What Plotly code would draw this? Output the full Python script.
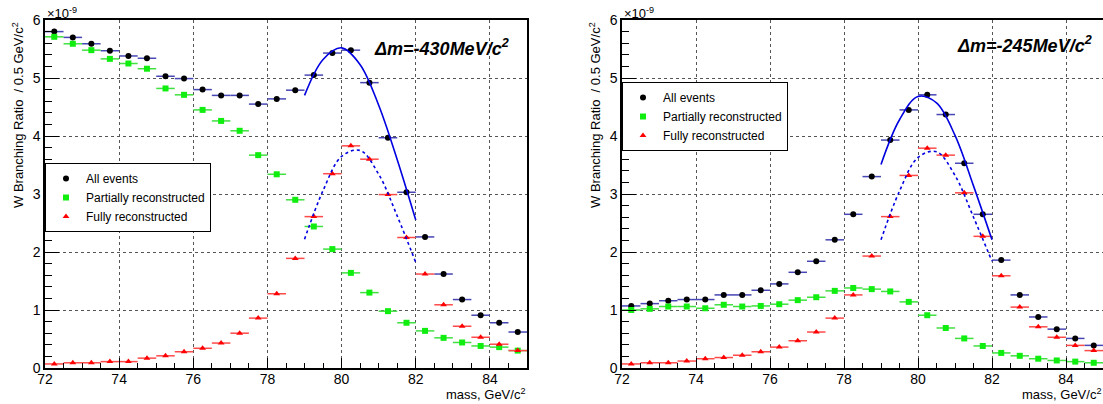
import plotly.graph_objects as go

# ---------------- data (values in units of 1e-9) ----------------
mass = [72.25, 72.75, 73.25, 73.75, 74.25, 74.75, 75.25, 75.75, 76.25, 76.75,
        77.25, 77.75, 78.25, 78.75, 79.25, 79.75, 80.25, 80.75, 81.25, 81.75,
        82.25, 82.75, 83.25, 83.75, 84.25, 84.75]
half_bin = [0.25] * len(mass)

all_430 = [5.80, 5.70, 5.59, 5.47, 5.38, 5.34, 5.03, 4.99, 4.80, 4.70,
           4.70, 4.55, 4.64, 4.79, 5.05, 5.43, 5.48, 4.92, 3.97, 3.03,
           2.26, 1.62, 1.18, 0.91, 0.78, 0.62]
part_430 = [5.71, 5.59, 5.48, 5.33, 5.25, 5.16, 4.82, 4.71, 4.45, 4.26,
            4.09, 3.67, 3.34, 2.90, 2.44, 2.05, 1.64, 1.30, 0.98, 0.78,
            0.64, 0.52, 0.44, 0.38, 0.36, 0.30]
full_430 = [0.07, 0.09, 0.09, 0.11, 0.11, 0.17, 0.21, 0.28, 0.34, 0.43,
            0.60, 0.86, 1.28, 1.89, 2.61, 3.35, 3.83, 3.60, 2.99, 2.25,
            1.62, 1.09, 0.72, 0.53, 0.41, 0.30]

all_245 = [1.07, 1.11, 1.16, 1.18, 1.18, 1.26, 1.26, 1.34, 1.45, 1.65,
           1.84, 2.21, 2.65, 3.30, 3.93, 4.45, 4.71, 4.37, 3.53, 2.65,
           1.86, 1.26, 0.88, 0.67, 0.51, 0.39]
part_245 = [1.00, 1.02, 1.06, 1.06, 1.03, 1.09, 1.06, 1.07, 1.10, 1.17,
            1.22, 1.33, 1.38, 1.36, 1.32, 1.14, 0.91, 0.69, 0.51, 0.38,
            0.26, 0.21, 0.16, 0.13, 0.11, 0.09]
full_245 = [0.07, 0.09, 0.09, 0.12, 0.16, 0.18, 0.22, 0.28, 0.36, 0.47,
            0.62, 0.86, 1.26, 1.93, 2.61, 3.32, 3.79, 3.67, 3.02, 2.27,
            1.59, 1.05, 0.71, 0.53, 0.39, 0.30]

# fit curves
fit_x = [79.0, 79.5, 80.0, 80.5, 81.0, 81.5, 82.0]
fit_all_430 = [4.70, 5.32, 5.52, 5.23, 4.53, 3.59, 2.55]
fit_full_430 = [2.22, 3.06, 3.65, 3.75, 3.34, 2.62, 1.82]
fit_all_245 = [3.51, 4.28, 4.68, 4.57, 4.01, 3.14, 2.21]
fit_full_245 = [2.21, 3.05, 3.63, 3.73, 3.32, 2.60, 1.84]

series_names = ["All events", "Partially reconstructed", "Fully reconstructed"]
panel_labels = ["Δm=-430MeV/c<sup>2</sup>", "Δm=-245MeV/c<sup>2</sup>"]

FONT = "Liberation Sans, Arial, sans-serif"
W, H = 1103, 404

fig = go.Figure()

styles = [
    dict(color="black", symbol="circle", size=6, err="#4646b4"),
    dict(color="#10ee10", symbol="square", size=6, err="#40e040"),
    dict(color="#ff0000", symbol="triangle-up", size=6, err="#ff4a4a"),
]

panels = [
    ("x", "y", "legend", [all_430, part_430, full_430], fit_all_430, fit_full_430),
    ("x2", "y2", "legend2", [all_245, part_245, full_245], fit_all_245, fit_full_245),
]

for xa, ya, lg, vals, fa, ff in panels:
    for name, v, st in zip(series_names, vals, styles):
        fig.add_trace(go.Scatter(
            x=mass, y=v, mode="markers", name=name, xaxis=xa, yaxis=ya, legend=lg,
            marker=dict(color=st["color"], symbol=st["symbol"], size=st["size"]),
            error_x=dict(type="data", array=half_bin, visible=True, color=st["err"],
                         thickness=1.5, width=0),
        ))
    fig.add_trace(go.Scatter(x=fit_x, y=fa, mode="lines", line=dict(color="#0000e0", width=1.6, shape="spline"),
                             xaxis=xa, yaxis=ya, showlegend=False))
    fig.add_trace(go.Scatter(x=fit_x, y=ff, mode="lines",
                             line=dict(color="#0000e0", width=1.6, dash="3px,3px", shape="spline"),
                             xaxis=xa, yaxis=ya, showlegend=False))

# geometry (pixels)
left_axes = [45, 622]
right_axes = [527, 1103]
top_px, bot_px = 20, 368
ydom = [(H - bot_px) / H, (H - top_px) / H]

common_x = dict(range=[72, 85], tick0=72, dtick=2, ticks="inside", ticklen=10, tickwidth=1,
                tickcolor="black", showline=True, linecolor="black", linewidth=1.5, mirror=True,
                showgrid=True, gridcolor="#555555", griddash="dot", gridwidth=1, zeroline=False,
                automargin=False, ticklabelstandoff=-3,
                tickfont=dict(size=14, family=FONT, color="black"),
                minor=dict(dtick=0.5, ticks="inside", ticklen=5, tickcolor="black", showgrid=False))
common_y = dict(range=[0, 6], tick0=0, dtick=1, ticks="inside", ticklen=14, tickwidth=1,
                tickcolor="black", showline=True, linecolor="black", linewidth=1.5, mirror=True,
                showgrid=True, gridcolor="#555555", griddash="dot", gridwidth=1, zeroline=False,
                automargin=False,
                tickfont=dict(size=14, family=FONT, color="black"),
                minor=dict(dtick=0.2, ticks="inside", ticklen=7, tickcolor="black", showgrid=False))

fig.update_layout(
    xaxis=dict(domain=[left_axes[0] / W, right_axes[0] / W], anchor="y", **common_x),
    yaxis=dict(domain=ydom, anchor="x", **common_y),
    xaxis2=dict(domain=[left_axes[1] / W, right_axes[1] / W], anchor="y2", **common_x),
    yaxis2=dict(domain=ydom, anchor="x2", **common_y),
)

leg_common = dict(xanchor="left", yanchor="top", bordercolor="black", borderwidth=1,
                  bgcolor="white", font=dict(size=12, family=FONT, color="black"),
                  tracegroupgap=0, itemwidth=30)
fig.update_layout(
    legend=dict(x=45 / W, y=(H - 163) / H, **leg_common),
    legend2=dict(x=622 / W, y=(H - 82) / H, **leg_common),
)

ann = []
for i, ax in enumerate(left_axes):
    ann.append(dict(x=ax / W, y=(H - 13) / H, xref="paper", yref="paper", xanchor="left", yanchor="middle",
                    text="×10<sup>-9</sup>", showarrow=False, font=dict(size=13, family=FONT, color="black")))
    ann.append(dict(x=(ax - 27) / W, y=(H - 20) / H, xref="paper", yref="paper", xanchor="center", yanchor="top",
                    text="W Branching Ratio  / 0.5 GeV/c<sup>2</sup>", textangle=-90, showarrow=False,
                    font=dict(size=13, family=FONT, color="black")))
    ann.append(dict(x=right_axes[i] / W, y=(H - 394) / H, xref="paper", yref="paper", xanchor="right",
                    yanchor="middle", text="mass, GeV/c<sup>2</sup>", showarrow=False,
                    font=dict(size=13, family=FONT, color="black")))
ann.append(dict(x=511 / W, y=(H - 47) / H, xref="paper", yref="paper", xanchor="right", yanchor="middle",
                text="<b><i>" + panel_labels[0] + "</i></b>", showarrow=False,
                font=dict(size=18, family=FONT, color="black")))
ann.append(dict(x=1094 / W, y=(H - 45) / H, xref="paper", yref="paper", xanchor="right", yanchor="middle",
                text="<b><i>" + panel_labels[1] + "</i></b>", showarrow=False,
                font=dict(size=18, family=FONT, color="black")))

fig.update_layout(annotations=ann, width=W, height=H, margin=dict(l=0, r=0, t=0, b=0),
                  paper_bgcolor="white", plot_bgcolor="white", font=dict(family=FONT))

# remove the default 8px page margin so the figure sits at the window origin
fig.write_html("out.html", config={"displayModeBar": False},
               post_script="document.body.style.margin='0px';document.body.style.overflow='hidden';")
